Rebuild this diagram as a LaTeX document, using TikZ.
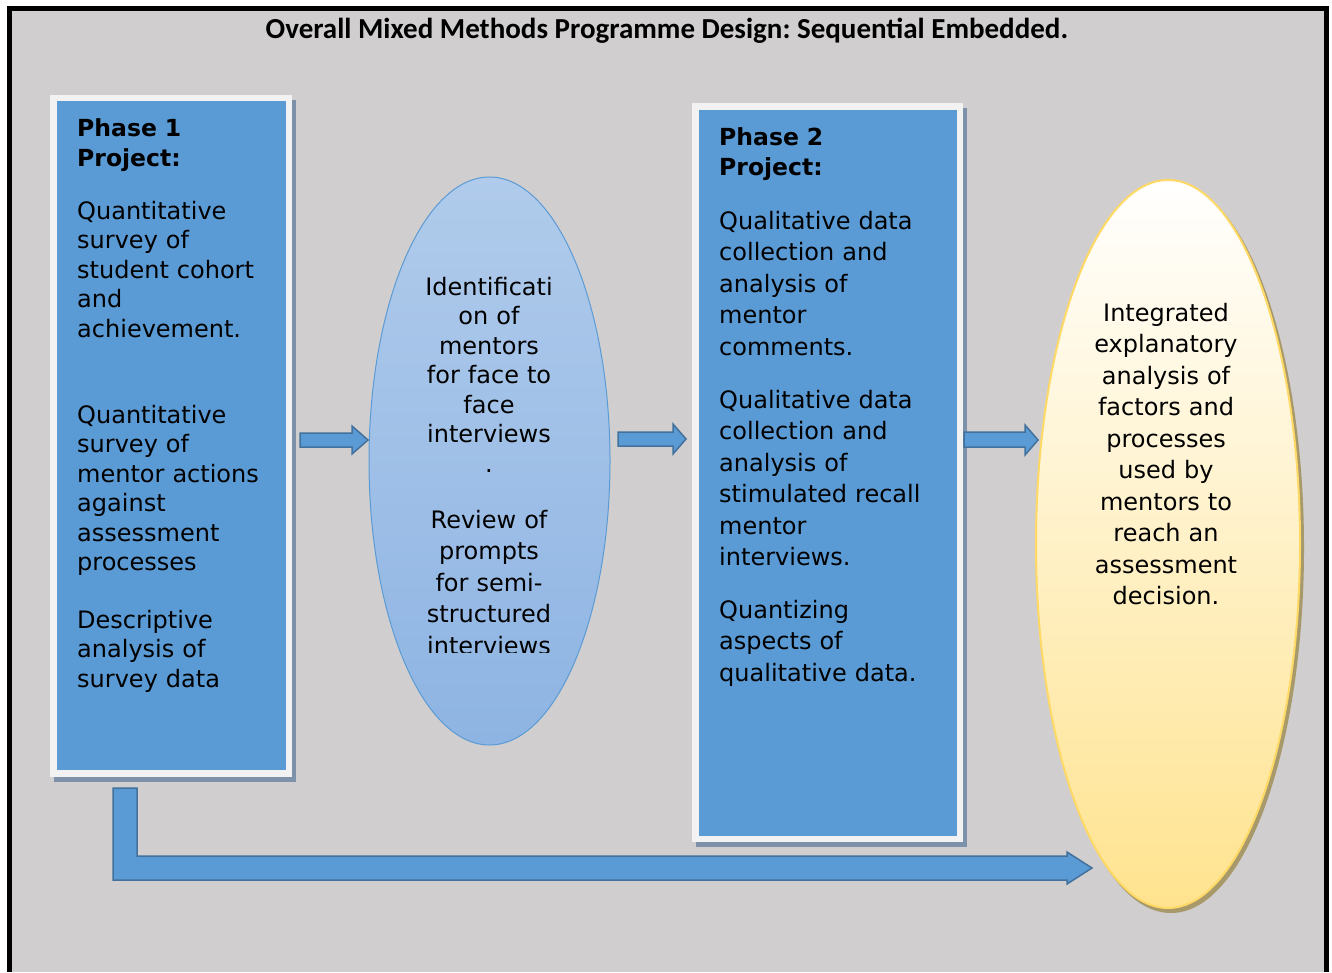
\documentclass[tikz,border=0pt]{standalone}
\usepackage{fontspec}
\setmainfont{DejaVu Sans}
\newfontfamily\titlefont{Carlito}
\usetikzlibrary{shapes.geometric,shadows,calc}

\definecolor{bggray}{HTML}{D0CECE}
\definecolor{boxblue}{HTML}{5B9BD5}
\definecolor{framewhite}{HTML}{F2F2F2}
\definecolor{shadowblue}{HTML}{7D91AA}
\definecolor{arrowedge}{HTML}{41719C}
\definecolor{ovaltop}{HTML}{B0CBEB}
\definecolor{ovalbottom}{HTML}{8EB4E3}
\definecolor{goldedge}{HTML}{FFD966}
\definecolor{goldmid}{HTML}{FFF7DF}
\definecolor{goldbottom}{HTML}{FFE38F}
\definecolor{goldshadow}{HTML}{A8996A}

\begin{document}
\frenchspacing
\begin{tikzpicture}[x=1pt, y=-1pt, every node/.style={inner sep=0pt, font=\fontsize{24}{29.5}\selectfont},
  phasebox/.style={rectangle, fill=boxblue, draw=framewhite, line width=6.5pt,
    copy shadow={shadow xshift=4pt, shadow yshift=-5pt, fill=shadowblue, draw=shadowblue}},
  blueoval/.style={ellipse, draw=boxblue, line width=1pt, top color=ovaltop, bottom color=ovalbottom},
  goldoval/.style={ellipse, draw=goldedge, line width=2pt, top color=white, middle color=goldmid, bottom color=goldbottom,
    copy shadow={shadow xshift=3pt, shadow yshift=-4pt, fill=goldshadow, draw=goldshadow}},
  headtext/.style={text width=200pt, align=left, anchor=base west, font=\fontsize{23.5}{30.5}\selectfont\bfseries},
  bodytext/.style={text width=240pt, align=left, anchor=base west},
  ovaltext/.style={text width=230pt, align=center, anchor=base},
  widetext/.style={font=\fontsize{24}{31.5}\selectfont},
  blockarrow/.style={draw=arrowedge, fill=boxblue, line width=1.5pt, line join=miter}]
\useasboundingbox (0,0) rectangle (1332,972);

% background and frame
\fill[white] (0,0) rectangle (1332,972);
\fill[bggray] (12,11) rectangle (1324,972);
\draw[black, line width=5pt] (9.5,972) -- (9.5,8.5) -- (1326.5,8.5) -- (1326.5,972);

% Specification of nodes (position, etc.)
\node (title)   [anchor=base, font=\titlefont\fontsize{29}{34}\selectfont\bfseries] at (667,38)
                {Overall Mixed Methods Programme Design: Sequential Embedded.};

\node (p1)      [phasebox, minimum width=235.5, minimum height=675.5] at (171.25,435.75) {};
\node (e1)      [blueoval, minimum width=241, minimum height=568] at (489.5,461) {};
\node (p2)      [phasebox, minimum width=264.5, minimum height=732.5] at (827.5,472.5) {};
\node (e2)      [goldoval, minimum width=264, minimum height=728] at (1168,544) {};

% phase 1 texts
\node (p1head)  [headtext] at (77,136) {Phase 1\\Project:};
\node (p1a)     [bodytext] at (77,219) {Quantitative\\survey of\\student cohort\\and\\achievement.};
\node (p1b)     [bodytext] at (77,423) {Quantitative\\survey of\\mentor actions\\against\\assessment\\processes};
\node (p1c)     [bodytext] at (77,628) {Descriptive\\analysis of\\survey data};

% oval texts (the second one is cut off by its text box)
\node (e1a)     [ovaltext] at (489,295) {Identificati\\on of\\mentors\\for face to\\face\\interviews\\.};
\begin{scope}
\clip (369,500) rectangle (610,652);
\node (e1b)     [ovaltext, widetext] at (489,528) {Review of\\prompts\\for semi-\\structured\\interviews};
\end{scope}

% phase 2 texts
\node (p2head)  [headtext] at (719,145) {Phase 2\\Project:};
\node (p2a)     [bodytext, widetext] at (719,229) {Qualitative data\\collection and\\analysis of\\mentor\\comments.};
\node (p2b)     [bodytext, widetext] at (719,408) {Qualitative data\\collection and\\analysis of\\stimulated recall\\mentor\\interviews.};
\node (p2c)     [bodytext, widetext] at (719,618) {Quantizing\\aspects of\\qualitative data.};

\node (e2a)     [ovaltext, widetext] at (1166,321) {Integrated\\explanatory\\analysis of\\factors and\\processes\\used by\\mentors to\\reach an\\assessment\\decision.};

% block arrows between the stages
\draw[blockarrow] ($(p1.east |- 0,433)+(7.75,0)$) -- ++(52,0) -- ++(0,-7) -- ++(16,14) -- ++(-16,14) -- ++(0,-7) -- ++(-52,0) -- cycle;
\draw[blockarrow] ($(e1.east |- 0,432)+(7.5,0)$) -- ++(55,0) -- ++(0,-8) -- ++(13,15) -- ++(-13,15) -- ++(0,-8) -- ++(-55,0) -- cycle;
\draw[blockarrow] ($(p2.east |- 0,432)+(1,0)$) -- ++(61,0) -- ++(0,-7) -- ++(13,15) -- ++(-13,15) -- ++(0,-8) -- ++(-61,0) -- cycle;

% long arrow from phase 1 to the integrated analysis
\draw[blockarrow] ($(p1.south west)+(62.75,11.25)$) -- ++(24,0) -- ++(0,68) -- ++(930,0) -- ++(0,-4)
                  -- ++(25,16) -- ++(-25,16) -- ++(0,-4) -- ++(-954,0) -- cycle;

\end{tikzpicture}
\end{document}
